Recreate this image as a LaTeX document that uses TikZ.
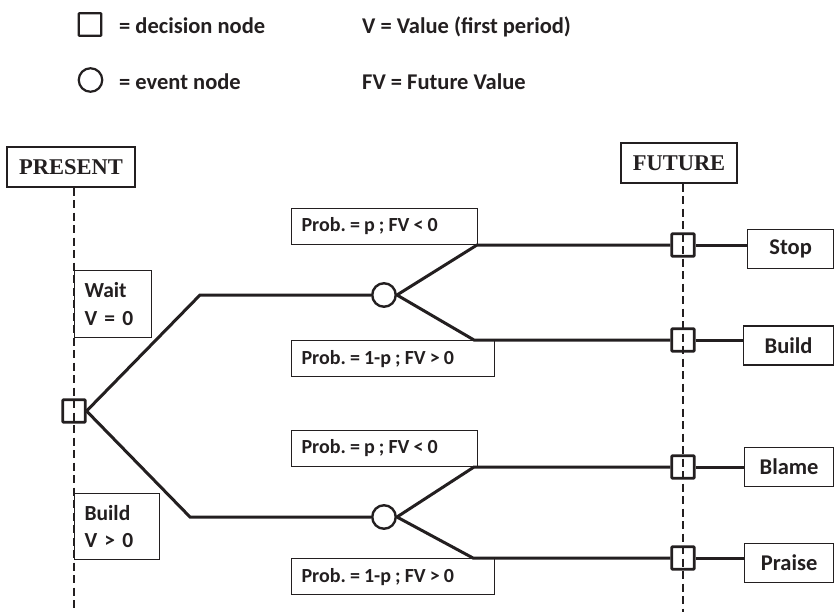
\documentclass[tikz,border=0pt]{standalone}
\usepackage{fontspec}
\newfontfamily\lab{Carlito}
\newfontfamily\tms{Liberation Serif}
\definecolor{ink}{HTML}{231F20}
\newcommand\tightsp{\frenchspacing\spaceskip=4.1pt plus 1pt minus 0.5pt\xspaceskip=4.1pt plus 1pt minus 0.5pt\relax}
\begin{document}
\begin{tikzpicture}[x=1pt,y=-1pt,
  dnode/.style={draw=ink, line width=2.6pt, minimum size=22.5pt, inner sep=0pt, rounded corners=0.8pt},
  enode/.style={circle, draw=ink, line width=2.4pt, minimum size=23.5pt, inner sep=0pt, fill=white},
  branch/.style={draw=ink, line width=3pt, line join=miter},
  timeline/.style={draw=ink, line width=1.8pt, dash pattern=on 8pt off 4.5pt},
  leg/.style={font=\lab\bfseries\fontsize{22.5}{27}\selectfont, text=ink, anchor=base west, inner sep=0pt},
  probbox/.style={font=\lab\bfseries\fontsize{20}{26}\selectfont, text=ink, draw=ink, line width=1.2pt, fill=white, inner xsep=10pt, inner ysep=0pt, minimum height=36pt, align=left},
  valbox/.style={font=\lab\bfseries\fontsize{21.5}{27.5}\selectfont, text=ink, draw=ink, line width=1.2pt, inner xsep=10pt, inner ysep=0pt, align=left},
  outbox/.style={font=\lab\bfseries\fontsize{22.5}{27}\selectfont, text=ink, draw=ink, line width=1.2pt, fill=white, inner sep=0pt, minimum height=39pt, anchor=west},
  timebox/.style={font=\tms\bfseries\fontsize{22.5}{26}\selectfont, text=ink, draw=ink, line width=1.4pt, inner sep=0pt, minimum height=40pt}
]
\useasboundingbox (0,0) rectangle (834,612);
\coordinate (bot) at (0,612);

% legend
\node[dnode, line width=2.2pt] (legD) at (90,24.5) {};
\node[leg] (legDt) at (119,34) {= decision node};
\node[enode, line width=2.2pt] (legE) at (90.5,80) {};
\node[leg] (legEt) at (119,90) {= event node};
\node[leg] (legV) at (362,34) {V = Value (first period)};
\node[leg] (legFV) at (362,90) {FV = Future Value};

% time boxes
\node[timebox, minimum width=128pt] (pres) at (71,167) {PRESENT};
\node[timebox, minimum width=116pt] (fut) at (679,163) {FUTURE};

% decision and event nodes
\node[dnode] (D0) at (74,411) {};
\node[enode] (E1) at (384,295) {};
\node[enode] (E2) at (384,517) {};
\node[dnode] (F1) at (683,245) {};
\node[dnode] (F2) at (683,340) {};
\node[dnode] (F3) at (683,467) {};
\node[dnode] (F4) at (683,558) {};

% time lines
\draw[timeline] (pres.south -| D0) -- (D0 |- bot);
\draw[timeline] (fut.south -| F1) -- (F1 |- bot);

% value boxes
\node[valbox, anchor=north west, minimum width=77pt, minimum height=67pt, text width=57pt] (wait) at (74,270) {Wait\\V = 0};
\node[valbox, anchor=north west, minimum width=85pt, minimum height=66pt, text width=65pt] (bld) at (74,493) {Build\\V > 0};

% corners
\coordinate (c1) at (200,295);
\coordinate (c2) at (190,517);
\coordinate (u1) at (477,245);
\coordinate (l1) at (474,340);
\coordinate (u2) at (474,467);
\coordinate (l2) at (473,558);

% probability labels
\node[probbox, anchor=south west, text width=166pt] (p1) at (291,245) {\tightsp Prob. = p ; FV < 0};
\node[probbox, anchor=north west, text width=183pt] (p2) at (291,340) {\tightsp Prob. = 1-p ; FV > 0};
\node[probbox, anchor=south west, text width=166pt] (p3) at (291,467) {\tightsp Prob. = p ; FV < 0};
\node[probbox, anchor=north west, text width=183pt] (p4) at (291,558) {\tightsp Prob. = 1-p ; FV > 0};

% outcome boxes
\node[outbox, minimum width=86pt] (stop) at (747,249) {Stop};
\node[outbox, minimum width=90pt] (build) at (743,345.5) {Build};
\node[outbox, minimum width=89pt] (blame) at (744,467) {Blame};
\node[outbox, minimum width=89pt] (praise) at (744,563) {Praise};

% branches
\draw[branch] (D0.east) -- (c1) -- (E1.west);
\draw[branch] (D0.east) -- (c2) -- (E2.west);
\draw[branch] (E1.east) -- (u1) -- (F1.west);
\draw[branch] (E1.east) -- (l1) -- (F2.west);
\draw[branch] (E2.east) -- (u2) -- (F3.west);
\draw[branch] (E2.east) -- (l2) -- (F4.west);
\draw[branch] (F1.east) -- (F1 -| stop.west);
\draw[branch] (F2.east) -- (F2 -| build.west);
\draw[branch] (F3.east) -- (F3 -| blame.west);
\draw[branch] (F4.east) -- (F4 -| praise.west);
\end{tikzpicture}
\end{document}
